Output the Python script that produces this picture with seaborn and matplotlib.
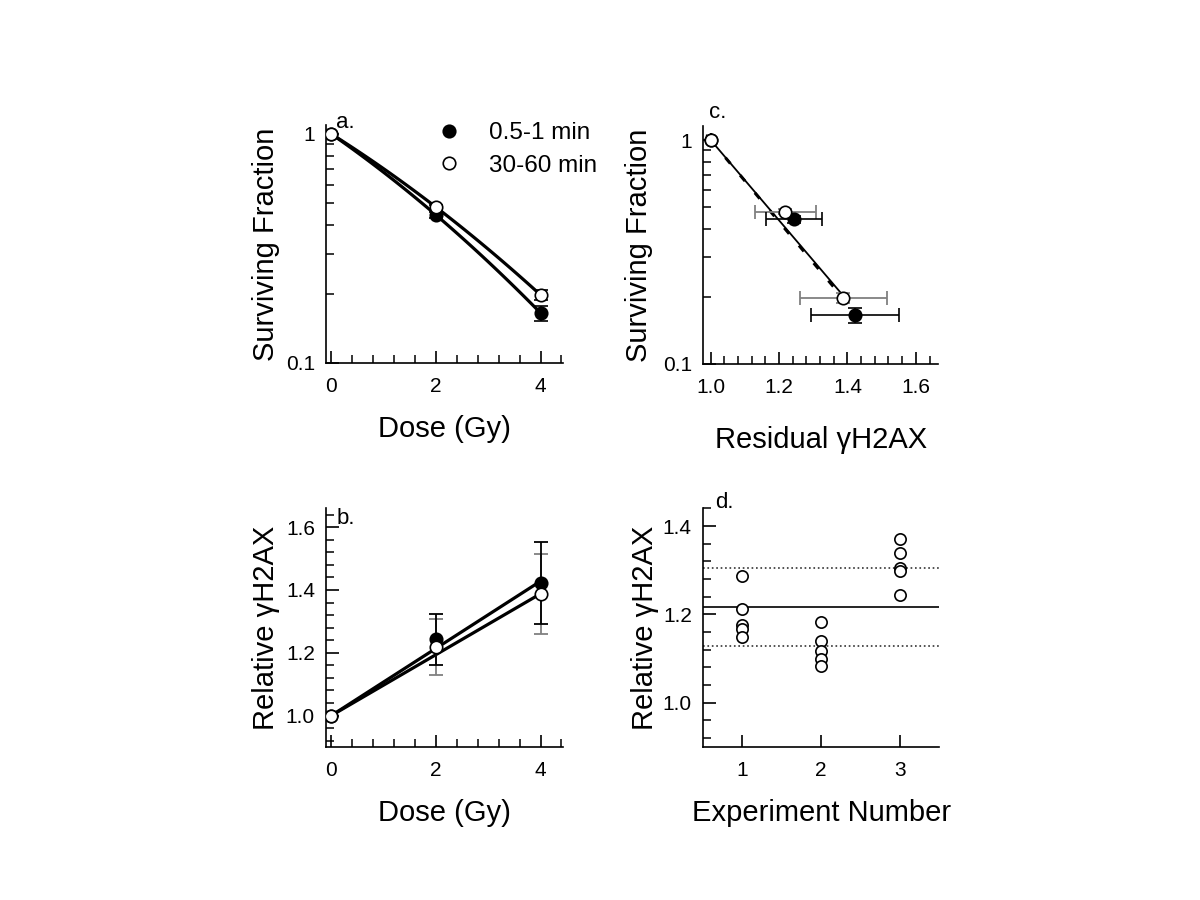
import numpy as np
import matplotlib
matplotlib.use("Agg")
import matplotlib.pyplot as plt
import seaborn as sns
from matplotlib.ticker import MultipleLocator, NullFormatter, LogLocator, FixedLocator, FixedFormatter
from matplotlib.lines import Line2D

# data
dose = [0, 2, 4]
sf_early = [1.0, 0.443, 0.165]        # 0.5-1 min
sf_early_err = [0.0, 0.015, 0.013]
sf_late = [1.0, 0.479, 0.198]         # 30-60 min
sf_late_err = [0.0, 0.012, 0.010]
h2ax_early = [1.0, 1.243, 1.422]
h2ax_early_err = [0.0, 0.082, 0.130]
h2ax_late = [1.0, 1.218, 1.388]
h2ax_late_err = [0.0, 0.089, 0.128]

# fitted curves shown in the figure
lq_early = (0.364, 0.0215)   # alpha, beta  (SF = exp(-aD - bD^2))
lq_late = (0.331, 0.0184)
slope_early = 0.107          # relative gH2AX = 1 + s*D
slope_late = 0.097
fit_c_solid = (4.13, 0.988, 1.393)   # k, x from, x to  (SF = exp(-k(x-1)))
fit_c_dash = (4.20, 1.0, 1.40)

exp_number = [1, 1, 1, 1, 1, 2, 2, 2, 2, 2, 3, 3, 3, 3, 3]
exp_values = [1.287, 1.212, 1.177, 1.166, 1.150,
              1.183, 1.139, 1.118, 1.098, 1.083,
              1.370, 1.340, 1.306, 1.298, 1.245]
exp_mean = 1.217
exp_sd = 0.088

sns.set_theme(style="ticks")
plt.rcParams['font.family'] = ['Liberation Sans', 'DejaVu Sans']
plt.rcParams['axes.linewidth'] = 1.2
for key in ['text.color', 'axes.labelcolor', 'xtick.color', 'ytick.color', 'axes.edgecolor']:
    plt.rcParams[key] = 'black'

fig = plt.figure(figsize=(12, 9), dpi=100)
ax_a = fig.add_axes([0.2717, 0.5967, 0.1975, 0.2644])
ax_c = fig.add_axes([0.5860, 0.5956, 0.1960, 0.2647])
ax_b = fig.add_axes([0.2717, 0.1700, 0.1975, 0.2652])
ax_d = fig.add_axes([0.5858, 0.1700, 0.1970, 0.2652])

grey = '#808080'
ms = 80
lab_fs = 21
tick_fs = 15


def style(ax):
    sns.despine(ax=ax)
    ax.tick_params(which='major', direction='in', length=9, width=1.2,
                   labelsize=tick_fs, pad=8, colors='black')
    ax.tick_params(which='minor', direction='in', length=5.5, width=1.1, colors='black')
    ax.tick_params(axis='x', which='major', pad=10)


def points(ax, x, y, filled):
    sns.scatterplot(x=x, y=y, ax=ax, s=ms, marker='o',
                    color='black' if filled else 'white',
                    edgecolor='black', linewidth=1.2, zorder=4, legend=False)


# ---- panel a ----
for (a, b), sf, err in [(lq_late, sf_late, sf_late_err), (lq_early, sf_early, sf_early_err)]:
    d = np.linspace(0, 4, 80)
    sns.lineplot(x=d, y=np.exp(-a * d - b * d ** 2), ax=ax_a, color='black', lw=2.3, zorder=2)
    ax_a.errorbar(dose, sf, yerr=err, fmt='none', ecolor='black', elinewidth=1.2,
                  capsize=5, capthick=1.2, zorder=3)
points(ax_a, dose, sf_early, True)
points(ax_a, dose, sf_late, False)
ax_a.set_yscale('log')
ax_a.set_xlim(-0.1, 4.43)
ax_a.set_ylim(0.1, 1.094)
ax_a.yaxis.set_major_locator(FixedLocator([0.1, 1]))
ax_a.yaxis.set_major_formatter(FixedFormatter(['0.1', '1']))
ax_a.yaxis.set_minor_locator(LogLocator(subs=np.arange(2, 10)))
ax_a.yaxis.set_minor_formatter(NullFormatter())
ax_a.xaxis.set_major_locator(MultipleLocator(2))
ax_a.xaxis.set_minor_locator(MultipleLocator(0.4))
ax_a.set_xlabel('Dose (Gy)', fontsize=lab_fs, labelpad=14)
ax_a.set_ylabel('Surviving Fraction', fontsize=lab_fs, labelpad=4)
style(ax_a)
handles = [Line2D([], [], marker='o', ls='none', mfc='black', mec='black', ms=9, mew=1.2),
           Line2D([], [], marker='o', ls='none', mfc='white', mec='black', ms=9, mew=1.2)]
ax_a.legend(handles, ['0.5-1 min', '30-60 min'], loc='upper left', frameon=False,
            bbox_to_anchor=(438 / 1200, 1 - 122 / 900), bbox_transform=fig.transFigure,
            fontsize=17.5, handlelength=0.9, handletextpad=1.2, labelspacing=0.45,
            borderpad=0, borderaxespad=0)

# ---- panel c ----
for (k, x0, x1), ls, lw in [(fit_c_solid, '-', 1.3), (fit_c_dash, (0, (2.5, 5)), 2.2)]:
    xs = np.linspace(x0, x1, 40)
    sns.lineplot(x=xs, y=np.exp(-k * (xs - 1)), ax=ax_c, color='black', lw=lw,
                 linestyle=ls, zorder=2)
ax_c.errorbar(h2ax_late, sf_late, xerr=h2ax_late_err, yerr=sf_late_err, fmt='none',
              ecolor=grey, elinewidth=1.3, capsize=5, capthick=1.3, zorder=3)
ax_c.errorbar(h2ax_early, sf_early, xerr=h2ax_early_err, yerr=sf_early_err, fmt='none',
              ecolor='black', elinewidth=1.2, capsize=5, capthick=1.2, zorder=3)
points(ax_c, h2ax_early, sf_early, True)
points(ax_c, h2ax_late, sf_late, False)
ax_c.set_yscale('log')
ax_c.set_xlim(0.978, 1.666)
ax_c.set_ylim(0.1, 1.159)
ax_c.yaxis.set_major_locator(FixedLocator([0.1, 1]))
ax_c.yaxis.set_major_formatter(FixedFormatter(['0.1', '1']))
ax_c.yaxis.set_minor_locator(LogLocator(subs=np.arange(2, 10)))
ax_c.yaxis.set_minor_formatter(NullFormatter())
ax_c.xaxis.set_major_locator(MultipleLocator(0.2))
ax_c.xaxis.set_major_formatter(matplotlib.ticker.FormatStrFormatter('%.1f'))
ax_c.xaxis.set_minor_locator(MultipleLocator(0.04))
ax_c.set_xlabel('Residual γH2AX', fontsize=lab_fs, labelpad=21)
ax_c.set_ylabel('Surviving Fraction', fontsize=lab_fs, labelpad=7)
style(ax_c)

# ---- panel b ----
for s, vals, err, col in [(slope_late, h2ax_late, h2ax_late_err, grey),
                          (slope_early, h2ax_early, h2ax_early_err, 'black')]:
    d = np.array([dose[0], dose[-1]])
    sns.lineplot(x=d, y=1 + s * d, ax=ax_b, color='black', lw=2.3, zorder=2)
    ax_b.errorbar(dose, vals, yerr=err, fmt='none', ecolor=col, elinewidth=1.3,
                  capsize=5, capthick=1.3, zorder=3)
points(ax_b, dose, h2ax_early, True)
points(ax_b, dose, h2ax_late, False)
ax_b.set_xlim(-0.1, 4.43)
ax_b.set_ylim(0.9, 1.66)
ax_b.xaxis.set_major_locator(MultipleLocator(2))
ax_b.xaxis.set_minor_locator(MultipleLocator(0.4))
ax_b.yaxis.set_major_locator(FixedLocator([1.0, 1.2, 1.4, 1.6]))
ax_b.yaxis.set_major_formatter(matplotlib.ticker.FormatStrFormatter('%.1f'))
ax_b.yaxis.set_minor_locator(MultipleLocator(0.04))
ax_b.set_xlabel('Dose (Gy)', fontsize=lab_fs, labelpad=14)
ax_b.set_ylabel('Relative γH2AX', fontsize=lab_fs, labelpad=4)
style(ax_b)

# ---- panel d ----
ax_d.axhline(exp_mean, color='black', lw=1.2, zorder=1)
ax_d.axhline(exp_mean + exp_sd, color='#333333', lw=1.2, ls=':', zorder=1)
ax_d.axhline(exp_mean - exp_sd, color='#333333', lw=1.2, ls=':', zorder=1)
sns.scatterplot(x=exp_number, y=exp_values, ax=ax_d, s=66, marker='o', color='white',
                edgecolor='black', linewidth=1.2, zorder=4, legend=False)
ax_d.set_xlim(0.5, 3.5)
ax_d.set_ylim(0.9, 1.44)
ax_d.xaxis.set_major_locator(FixedLocator([1, 2, 3]))
ax_d.yaxis.set_major_locator(FixedLocator([1.0, 1.2, 1.4]))
ax_d.yaxis.set_major_formatter(matplotlib.ticker.FormatStrFormatter('%.1f'))
ax_d.yaxis.set_minor_locator(MultipleLocator(0.04))
ax_d.set_xlabel('Experiment Number', fontsize=lab_fs, labelpad=14)
ax_d.set_ylabel('Relative γH2AX', fontsize=lab_fs, labelpad=3)
style(ax_d)

# panel letters
for txt, x, y in [('a.', 345, 122), ('c.', 718, 112), ('b.', 346, 518), ('d.', 724, 502)]:
    fig.text(x / 1200, 1 - y / 900, txt, ha='center', va='center', fontsize=16)

fig.savefig('out.png', dpi=100)
